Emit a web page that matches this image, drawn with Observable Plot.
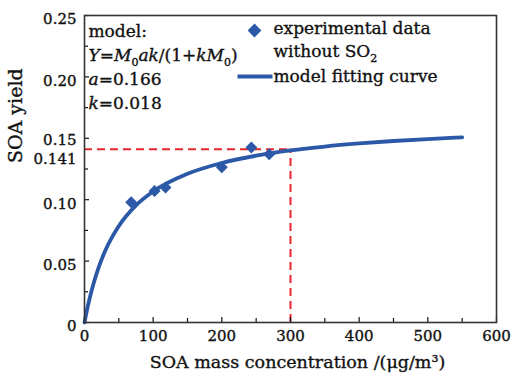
<!DOCTYPE html>
<html><head><meta charset="utf-8">
<script src="https://cdn.jsdelivr.net/npm/d3@7"></script>
<script src="https://cdn.jsdelivr.net/npm/@observablehq/plot@0.6"></script>
<style>
body{margin:0;background:#fff}
#chart svg{display:block}
#chart svg text{stroke:#111;stroke-width:0.35px;paint-order:stroke}
</style>
</head><body><div id="chart"></div>
<script>
// ---- data ----
const expMass  = [68, 102, 118, 200, 243, 269];
const expYield = [0.098, 0.107, 0.110, 0.1265, 0.1425, 0.137];

const curveMass  = [0, 5, 10, 20, 30, 50, 75, 100, 150, 200, 250, 300, 350, 400, 450, 500, 550];
const curveYield = [0, 0.0137, 0.0253, 0.0439, 0.0582, 0.0786, 0.0954, 0.1067, 0.1211, 0.1299, 0.1358, 0.1401, 0.1433, 0.1458, 0.1478, 0.1494, 0.1508];

const refMass  = [300];
const refYield = [0.141];

const xTicks      = [0, 100, 200, 300, 400, 500, 600];
const xMinorTicks = [50, 150, 250, 350, 450, 550];
const yTicks      = [0, 0.05, 0.10, 0.15, 0.20, 0.25];
const yMinorTicks = [0.025, 0.075, 0.125, 0.175, 0.225];
const yExtraTick  = [0.141];

const modelLines   = ["model:", "_Y_=_M_~0~_ak_/(1+_kM_~0~)", "_a_=0.166", "_k_=0.018"];
const legendLabels = ["experimental data", "without SO~2~", "model fitting curve"];
const xLabel = "SOA mass concentration /(μg/m³)";
const yLabel = "SOA yield";

// ---- layout ----
const W = 516, H = 373, mL = 84, mR = 20, mT = 15, mB = 51;
const fw = W - mL - mR, fh = H - mT - mB;
const blue = "#2b59a7", red = "#e8262c", ink = "#111";
const serif = "DejaVu Serif";

const expData = expMass.map((m, i) => ({m, y: expYield[i]}));
const curveData = curveMass.map((m, i) => ({m, y: curveYield[i]}));

const lineSymbol = {draw(ctx) { ctx.moveTo(-17.5, 0); ctx.lineTo(17.5, 0); }};

const marks = [
  Plot.ruleY(refYield, {y: d => d, x1: 0, x2: refMass[0], stroke: red, strokeWidth: 2, strokeDasharray: "8,5"}),
  Plot.ruleX(refMass, {x: d => d, y1: 0, y2: refYield[0], stroke: red, strokeWidth: 2, strokeDasharray: "8,5"}),
  Plot.line(curveData, {x: "m", y: "y", curve: "monotone-x", stroke: blue, strokeWidth: 3.8}),
  Plot.dot(expData, {x: "m", y: "y", symbol: "diamond2", r: 5.4, fill: blue, stroke: "none"}),
  // ticks pointing inward
  Plot.ruleX(xTicks, {x: d => d, insetTop: fh - 5, stroke: ink, strokeWidth: 1.2}),
  Plot.ruleX(xMinorTicks, {x: d => d, insetTop: fh - 4, stroke: ink, strokeWidth: 1.2}),
  Plot.ruleY(yTicks, {y: d => d, insetRight: fw - 5, stroke: ink, strokeWidth: 1.2}),
  Plot.ruleY(yMinorTicks, {y: d => d, insetRight: fw - 4, stroke: ink, strokeWidth: 1.2}),
  Plot.frame({stroke: "#333", strokeWidth: 1.6}),
  Plot.axisX({ticks: xTicks, tickSize: 0, tickPadding: 8, tickFormat: d => String(d), label: null, fontSize: 15}),
  Plot.axisY({ticks: yTicks.filter(d => d !== 0.15), tickSize: 0, tickPadding: 8, dy: 4, tickFormat: d => d === 0 ? "0" : d.toFixed(2), label: null, fontSize: 15}),
  Plot.axisY({ticks: yTicks.filter(d => d === 0.15), tickSize: 0, tickPadding: 8, dy: 2, tickFormat: d => d.toFixed(2), label: null, fontSize: 15}),
  Plot.axisY({ticks: yExtraTick, tickSize: 0, tickPadding: 8, dy: 10, tickFormat: d => d.toFixed(3), label: null, fontSize: 15}),
  Plot.text([xLabel], {frameAnchor: "bottom", lineAnchor: "bottom", dx: 7, dy: 45, fontSize: 17.5, fill: ink}),
  Plot.text([yLabel], {frameAnchor: "left", dx: -69, dy: -6, rotate: -90, fontSize: 19, fill: ink}),
  ...modelLines.map((s, i) => Plot.text([s], {frameAnchor: "top-left", textAnchor: "start", lineAnchor: "bottom", dx: 4, dy: 21 + 24 * i, fontSize: 17, fill: ink})),
  // legend
  Plot.dot([legendLabels[0]], {frameAnchor: "top-left", dx: 170, dy: 15, symbol: "diamond2", r: 6.2, fill: blue, stroke: "none"}),
  Plot.dot([legendLabels[2]], {frameAnchor: "top-left", dx: 170.5, dy: 61, symbol: lineSymbol, fill: "none", stroke: blue, strokeWidth: 3.8}),
  ...legendLabels.map((s, i) => Plot.text([s], {frameAnchor: "top-left", textAnchor: "start", lineAnchor: "bottom", dx: 189, dy: [18, 41, 66][i], fontSize: 17, fill: ink}))
];

const chart = Plot.plot({
  width: W, height: H,
  marginLeft: mL, marginRight: mR, marginTop: mT, marginBottom: mB,
  style: {fontFamily: serif, fontSize: "15px", color: ink, background: "#fff"},
  x: {domain: [0, 600]},
  y: {domain: [0, 0.25]},
  marks
});

// rich text: _italic_ and ~subscript~
function richify(svg) {
  d3.select(svg).selectAll("text").each(function () {
    const el = this;
    const s = el.textContent;
    if (!/[_~]/.test(s)) return;
    const segs = [];
    let italic = false, sub = false, buf = "";
    const flush = () => { if (buf) segs.push({t: buf, italic, sub}); buf = ""; };
    for (const ch of s) {
      if (ch === "_") { flush(); italic = !italic; }
      else if (ch === "~") { flush(); sub = !sub; }
      else buf += ch;
    }
    flush();
    while (el.firstChild) el.removeChild(el.firstChild);
    let prevSub = false;
    for (const g of segs) {
      const t = document.createElementNS("http://www.w3.org/2000/svg", "tspan");
      t.textContent = g.t;
      if (g.italic) t.setAttribute("font-style", "italic");
      if (g.sub) { t.setAttribute("font-size", "11px"); t.setAttribute("dy", "5"); }
      else if (prevSub) t.setAttribute("dy", "-5");
      prevSub = g.sub;
      el.appendChild(t);
    }
  });
}
richify(chart);
document.getElementById("chart").appendChild(chart);
</script>
</body></html>
